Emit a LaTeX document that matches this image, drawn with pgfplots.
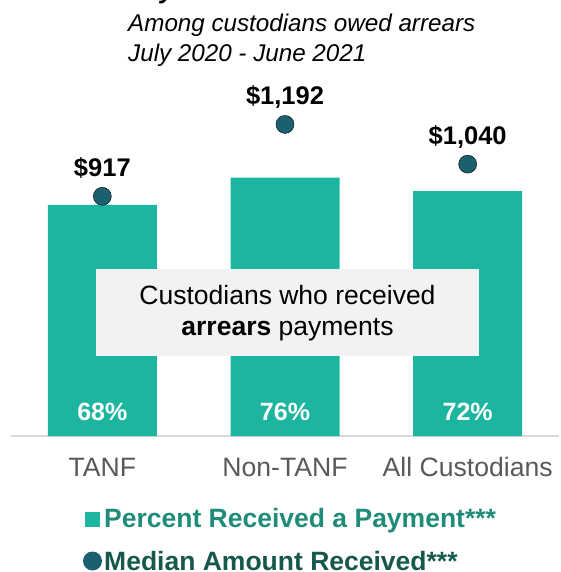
\documentclass[border=0pt]{standalone}
\usepackage{fontspec}
\setmainfont{Liberation Sans}
\usepackage{pgfplots}
\pgfplotsset{compat=1.18}

\definecolor{barteal}{HTML}{1BB5A0}
\definecolor{dotblue}{HTML}{1B6070}
\definecolor{legA}{HTML}{1E8C78}
\definecolor{legB}{HTML}{16594C}
\definecolor{tickgray}{HTML}{595959}
\definecolor{boxgray}{HTML}{F2F2F2}
\definecolor{axisgray}{HTML}{D9D9D9}

\newcommand{\fs}[1]{\fontsize{#1}{#1}\selectfont}

\begin{document}
\begin{tikzpicture}[x=1pt,y=1pt]
\useasboundingbox (0,-572) rectangle (560,0);

% title (top line cut off by the page edge)
\node[anchor=base west, inner sep=0] at (128,1) {\fs{26}\bfseries\itshape Payment};
\node[anchor=base west, inner sep=0] at (128,-32) {\fs{24.2}\itshape Among custodians owed arrears};
\node[anchor=base west, inner sep=0] at (128,-62) {\fs{24.2}\itshape July 2020 - June 2021};

% percent bars
\begin{axis}[
  at={(11pt,-436pt)}, anchor=south west,
  scale only axis, width=548pt, height=336pt,
  xmin=-0.5, xmax=2.5, ymin=0, ymax=98.82,
  axis x line=bottom, axis y line=none,
  x axis line style={draw=axisgray, line width=2pt, -},
  xtick={0,1,2}, xticklabels={TANF,Non-TANF,All Custodians},
  major tick length=0pt,
  xticklabel style={anchor=base, yshift=-40pt, font=\fs{26.6}, text=tickgray},
  ytick=\empty,
  clip=false,
]
\addplot[ybar, bar width=109pt, fill=barteal, draw=none] coordinates {(0,68) (1,76) (2,72)};
\node[anchor=base, text=white, font=\fs{25}\bfseries] at (axis cs:0,4.7) {68\%};
\node[anchor=base, text=white, font=\fs{25}\bfseries] at (axis cs:1,4.7) {76\%};
\node[anchor=base, text=white, font=\fs{25}\bfseries] at (axis cs:2,4.7) {72\%};
\end{axis}

% overlay box
\fill[boxgray] (96,-356) rectangle (479,-269);
\node[anchor=base, inner sep=0] at (287.5,-304) {\fs{26.5}Custodians who received};
\node[anchor=base, inner sep=0] at (287.5,-335) {\fs{26.5}\textbf{arrears} payments};

% median amounts
\begin{axis}[
  at={(11pt,-436pt)}, anchor=south west,
  scale only axis, width=548pt, height=336pt,
  xmin=-0.5, xmax=2.5, ymin=0, ymax=1285.4,
  axis lines=none, clip=false,
]
\addplot[only marks, mark=*, mark size=9pt, mark options={fill=dotblue, draw=none}]
  coordinates {(0,917) (1,1192) (2,1040)};
\node[anchor=base, font=\fs{25.5}\bfseries, yshift=20pt] at (axis cs:0,917) {\$917};
\node[anchor=base, font=\fs{25.5}\bfseries, yshift=20pt] at (axis cs:1,1192) {\$1,192};
\node[anchor=base, font=\fs{25.5}\bfseries, yshift=20pt] at (axis cs:2,1040) {\$1,040};
\end{axis}

% legend
\fill[barteal] (85,-527) rectangle (100,-512);
\node[anchor=base west, inner sep=0, text=legA] at (104,-527) {\fs{26.5}\bfseries Percent Received a Payment***};
\fill[dotblue] (92.5,-561) circle (9.5);
\node[anchor=base west, inner sep=0, text=legB] at (104,-570) {\fs{26.5}\bfseries Median Amount Received***};
\end{tikzpicture}
\end{document}
